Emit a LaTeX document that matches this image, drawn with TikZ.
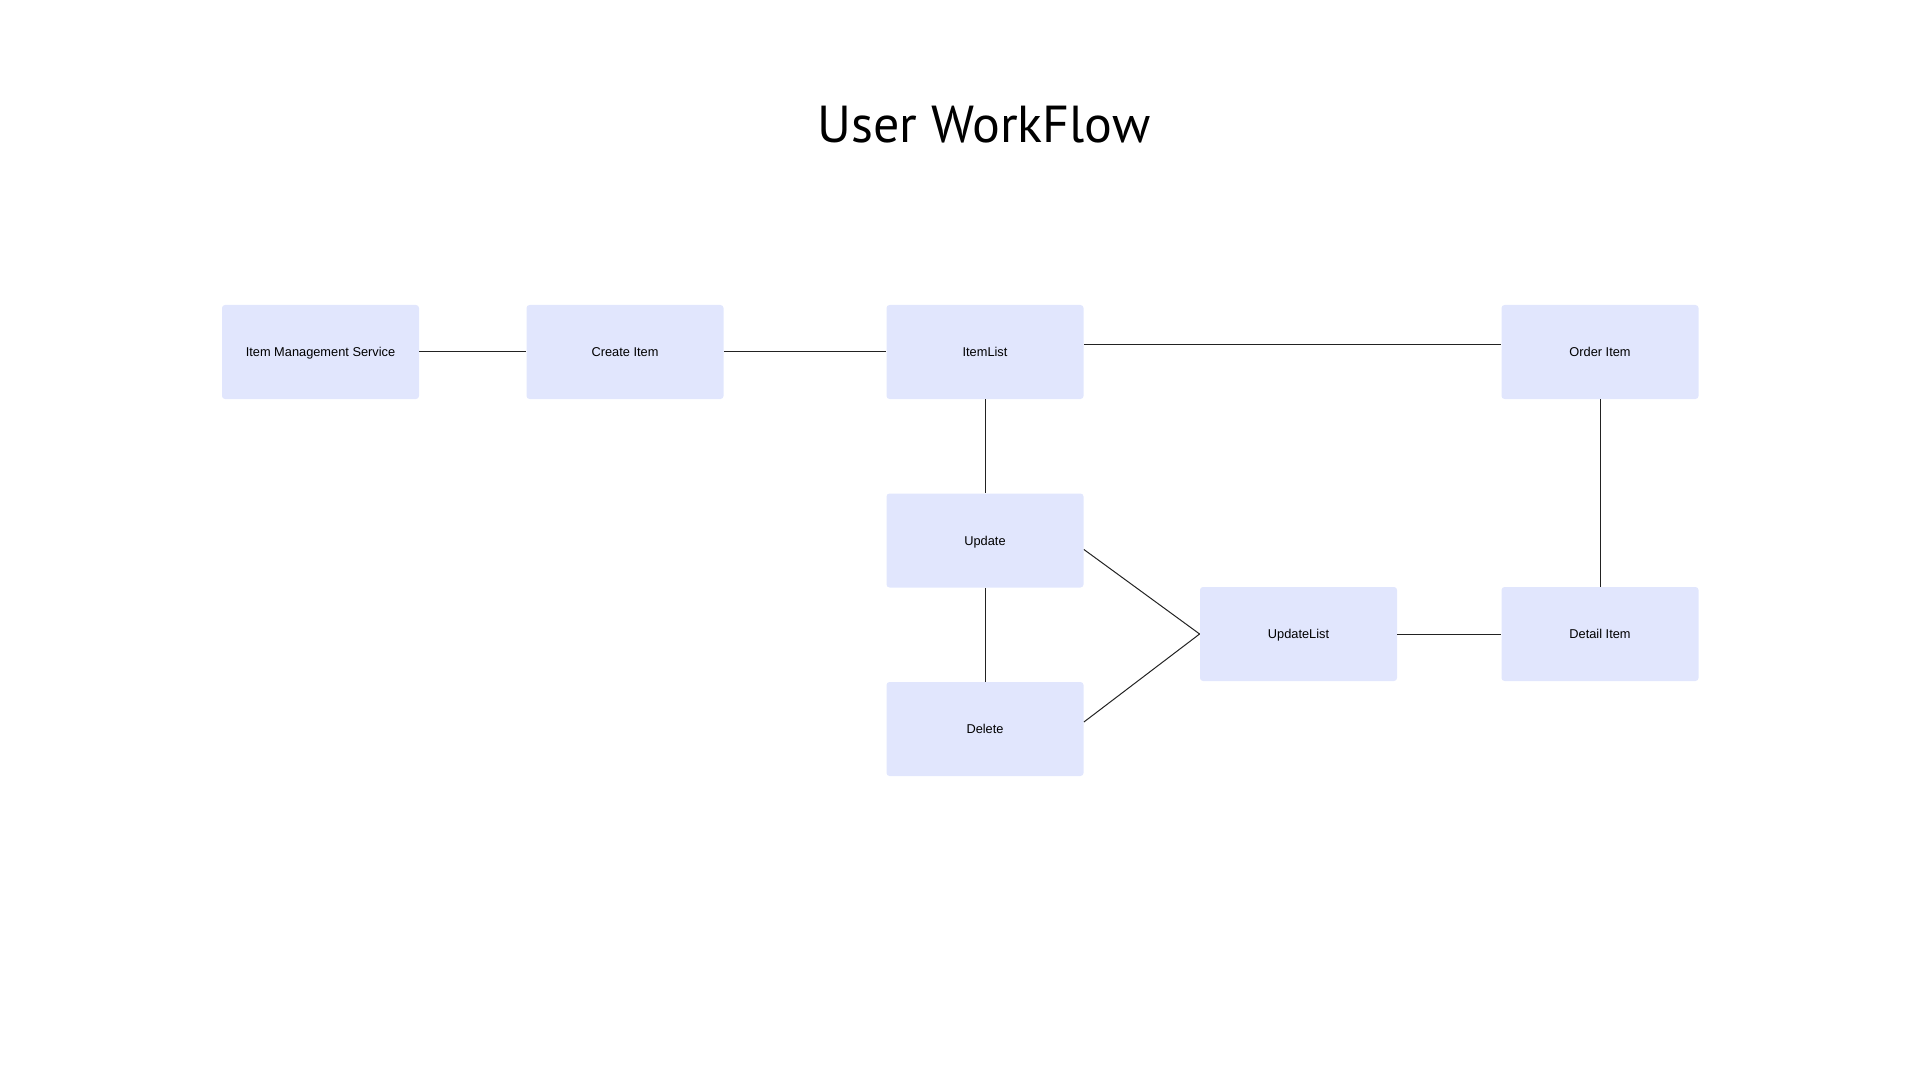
\documentclass[tikz,border=0pt]{standalone}
\usepackage{fontspec}
\setmainfont{Liberation Sans}
\newfontfamily\titlefont{PT Sans}
\usetikzlibrary{positioning}
\definecolor{boxfill}{HTML}{E1E6FD}
\definecolor{linegray}{HTML}{222222}

\begin{document}
\begin{tikzpicture}[x=0.5pt,y=-0.5pt,
  every node/.style={inner sep=0pt},
  task/.style={fill=boxfill, rounded corners=1.5pt, minimum width=98.5pt,
    minimum height=47pt, text height=4.6pt, text depth=0pt,
    font=\fontsize{6.4}{7}\selectfont},
  link/.style={draw=linegray, line width=0.5pt}]
\useasboundingbox (0,0) rectangle (1920,1080);
% title
\node (title) [anchor=base, font=\titlefont\fontsize{26}{30}\selectfont] at (984,143) {User WorkFlow};
% boxes
\node (ims)        [task] at (320.5,352) {Item Management Service};
\node (create)     [task] at (625,352)   {Create Item};
\node (itemlist)   [task] at (985,352)   {ItemList};
\node (order)      [task] at (1600,352)  {Order Item};
\node (update)     [task] at (985,540.5) {Update};
\node (delete)     [task] at (985,729)   {Delete};
\node (updatelist) [task] at (1298.5,634) {UpdateList};
\node (detail)     [task] at (1600,634)  {Detail Item};
% connectors
\draw [link] (ims.east) -- (create.west);
\draw [link] (create.east) -- (itemlist.west);
\draw [link] ([yshift=3.5pt]itemlist.east) -- ([yshift=3.5pt]order.west);
\draw [link] (itemlist.south) -- (update.north);
\draw [link] (update.south) -- (delete.north);
\draw [link] (order.south) -- (detail.north);
\draw [link] ([yshift=-4.5pt]update.east) -- (updatelist.west);
\draw [link] ([yshift=3.5pt]delete.east) -- (updatelist.west);
\draw [link] (updatelist.east) -- (detail.west);
\end{tikzpicture}
\end{document}
